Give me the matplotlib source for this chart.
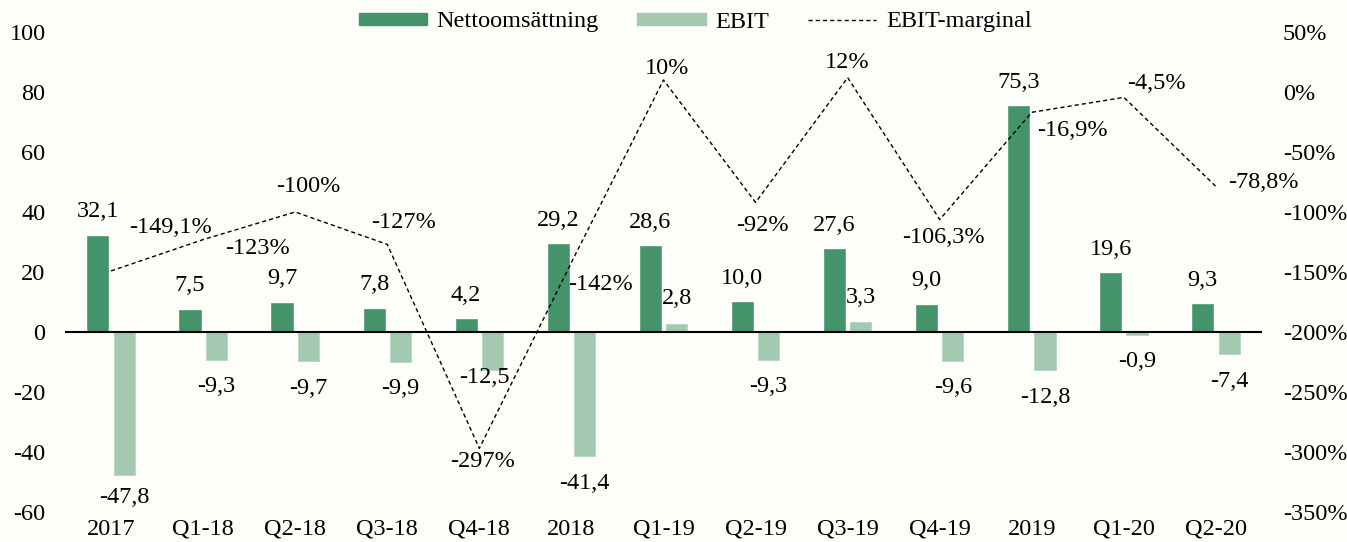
import matplotlib
matplotlib.use('Agg')
import matplotlib.pyplot as plt
from matplotlib.patches import Patch
from matplotlib.lines import Line2D
import numpy as np

plt.rcParams['font.family'] = ['Liberation Serif', 'DejaVu Serif']
plt.rcParams['font.size'] = 17.5
plt.rcParams['axes.unicode_minus'] = False

# data
categories = ['2017', 'Q1-18', 'Q2-18', 'Q3-18', 'Q4-18', '2018', 'Q1-19',
              'Q2-19', 'Q3-19', 'Q4-19', '2019', 'Q1-20', 'Q2-20']
netto = [32.1, 7.5, 9.7, 7.8, 4.2, 29.2, 28.6, 10.0, 27.6, 9.0, 75.3, 19.6, 9.3]
ebit = [-47.8, -9.3, -9.7, -9.9, -12.5, -41.4, 2.8, -9.3, 3.3, -9.6, -12.8, -0.9, -7.4]
marginal = [-149.1, -123, -100, -127, -297, -142, 10, -92, 12, -106.3, -16.9, -4.5, -78.8]
marginal_labels = ['-149,1%', '-123%', '-100%', '-127%', '-297%', '-142%', '10%',
                   '-92%', '12%', '-106,3%', '-16,9%', '-4,5%', '-78,8%']

# label offsets for the margin line (pixels)
m_off = [(59, 43), (54, -9), (13, 26), (16, 22), (3, -13), (29, -22), (4, 11),
         (7, -23), (0, 15), (4, -18), (41, -18), (33, 14), (47, 4)]

c_net = '#45936a'
c_ebit = '#a3c9b1'
bg = '#fdfdfa'

fig = plt.figure(figsize=(13.47, 5.42), dpi=100, facecolor=bg)
ax = fig.add_axes([65/1347, 30/542, (1262-65)/1347, 480/542])
ax.set_facecolor(bg)
ax2 = ax.twinx()

x = np.arange(len(categories))
w = 0.23
off = 0.143
ax.bar(x - off, netto, w, color=c_net, edgecolor='#5fa37d', linewidth=0.6, zorder=2)
ax.bar(x + off, ebit, w, color=c_ebit, edgecolor='#b5d4c0', linewidth=0.6, zorder=2)
ax.axhline(0, color='black', lw=1.5, zorder=3)

ax.set_xlim(-0.5, len(categories) - 0.5)
ax.set_ylim(-60, 100)
ax.set_yticks(range(-60, 101, 20))
ax.set_xticks(x)
ax.set_xticklabels(categories)

ax2.set_ylim(-350, 50)
ax2.set_yticks(range(-350, 51, 50))
ax2.set_yticklabels(['%d%%' % v for v in range(-350, 51, 50)])

for a in (ax, ax2):
    for s in a.spines.values():
        s.set_visible(False)
ax.tick_params(axis='y', length=0, pad=14)
ax.tick_params(axis='x', length=0, pad=5)
ax2.tick_params(axis='y', length=0, pad=15)

fmt = lambda v: ('%.1f' % v).replace('.', ',')

for i, v in enumerate(netto):
    ax.annotate(fmt(v), (x[i] - off, v), xytext=(0, 24), textcoords='offset pixels',
                ha='center', va='center')

ebit_extra = {0: (0, 5), 4: (-8, 19)}
for i, v in enumerate(ebit):
    dx, dy = ebit_extra.get(i, (0, 0))
    base = 25 if v > 0 else -27
    ax.annotate(fmt(v), (x[i] + off, v), xytext=(dx, base + dy), textcoords='offset pixels',
                ha='center', va='center')

ax2.plot(x, marginal, color='black', lw=1.0, linestyle=(0, (3, 2.2)), zorder=4)
for i, v in enumerate(marginal):
    ax2.annotate(marginal_labels[i], (x[i], v), xytext=m_off[i], textcoords='offset pixels',
                 ha='center', va='center')

handles = [Patch(color=c_net), Patch(color=c_ebit),
           Line2D([], [], color='black', lw=1.0, linestyle=(0, (3, 2.2)))]
fig.legend(handles, ['Nettoomsättning', 'EBIT', 'EBIT-marginal'], loc='center',
           bbox_to_anchor=(695/1347, 1 - 22/542), ncol=3, frameon=False,
           handlelength=2.8, handleheight=0.4, handletextpad=0.4, columnspacing=1.6,
           fontsize=17.5)

fig.savefig('out.png', dpi=100, facecolor=bg)
